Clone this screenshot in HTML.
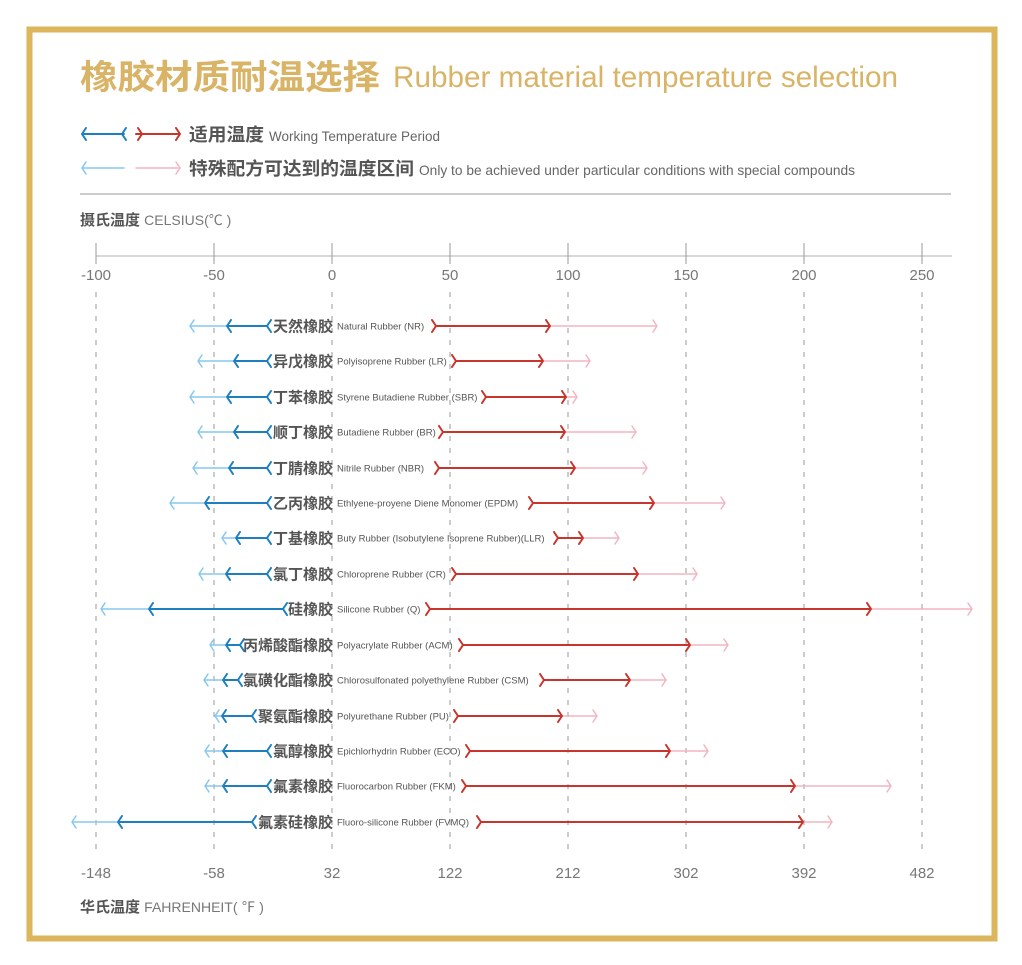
<!DOCTYPE html>
<html><head><meta charset="utf-8"><style>
body{margin:0;background:#fff;}
svg{display:block;}
.cj{font-family:"Liberation Sans","Noto Sans CJK SC",sans-serif;}
</style></head><body>
<svg width="1022" height="965" viewBox="0 0 1022 965" xmlns="http://www.w3.org/2000/svg" class="cj">
<rect x="29.5" y="29.5" width="965" height="909" fill="none" stroke="#dbb65c" stroke-width="6"/>
<text x="80" y="89" font-size="34" font-weight="bold" fill="#d9b467" textLength="300" lengthAdjust="spacingAndGlyphs">橡胶材质耐温选择</text>
<text x="393" y="87" font-size="30" fill="#d9b467" textLength="505" lengthAdjust="spacingAndGlyphs">Rubber material temperature selection</text>
<g fill="none" stroke-linecap="round" stroke-linejoin="round">
<path d="M82,134 H124 M86,128 L82,134 L86,140 M126,128 L122,134 L126,140" stroke="#1d7fc0" stroke-width="2"/>
<path d="M136,134 H178 M138,128 L142,134 L138,140 M176,128 L180,134 L176,140" stroke="#c8352c" stroke-width="2"/>
<path d="M82,168 H124 M86,162 L82,168 L86,174" stroke="#86c8ee" stroke-width="1.5"/>
<path d="M136,168 H178 M176,162 L180,168 L176,174" stroke="#f2b5c2" stroke-width="1.5"/>
</g>
<text x="189" y="141" font-size="18" font-weight="bold" fill="#555" textLength="75" lengthAdjust="spacingAndGlyphs">适用温度</text>
<text x="269" y="141" font-size="14" fill="#666" textLength="171" lengthAdjust="spacingAndGlyphs">Working Temperature Period</text>
<text x="189" y="175" font-size="18" font-weight="bold" fill="#555" textLength="225" lengthAdjust="spacingAndGlyphs">特殊配方可达到的温度区间</text>
<text x="419" y="175" font-size="14" fill="#666" textLength="436" lengthAdjust="spacingAndGlyphs">Only to be achieved under particular conditions with special compounds</text>
<line x1="80" y1="194" x2="951" y2="194" stroke="#ccc" stroke-width="2"/>
<text x="80" y="225" font-size="15" font-weight="bold" fill="#555">摄氏温度 <tspan font-weight="normal" font-size="14" fill="#777">CELSIUS(℃ )</tspan></text>
<text x="80" y="912" font-size="15" font-weight="bold" fill="#555">华氏温度 <tspan font-weight="normal" font-size="14" fill="#777">FAHRENHEIT( ℉ )</tspan></text>
<line x1="96" y1="256" x2="952" y2="256" stroke="#ccc" stroke-width="1.5"/>
<g stroke="#999" stroke-width="1">
<path d="M96,243V264M214,243V264M332,243V264M450,243V264M568,243V264M686,243V264M804,243V264M922,243V264"/>
<path d="M96,292V856M214,292V856M332,292V856M450,292V856M568,292V856M686,292V856M804,292V856M922,292V856" stroke-dasharray="5,7"/>
</g>
<g font-size="15" fill="#777" text-anchor="middle">
<text x="96" y="280">-100</text><text x="214" y="280">-50</text><text x="332" y="280">0</text><text x="450" y="280">50</text><text x="568" y="280">100</text><text x="686" y="280">150</text><text x="804" y="280">200</text><text x="922" y="280">250</text>
<text x="96" y="878">-148</text><text x="214" y="878">-58</text><text x="332" y="878">32</text><text x="450" y="878">122</text><text x="568" y="878">212</text><text x="686" y="878">302</text><text x="804" y="878">392</text><text x="922" y="878">482</text>
</g>
<g id="rows"></g>
</svg>
<script>
var rows=[
[326,"天然橡胶","Natural Rubber (NR)",190,227,267,436,550,657],
[361,"异戊橡胶","Polyisoprene Rubber (LR)",198,234,267,456,543,590],
[397,"丁苯橡胶","Styrene Butadiene Rubber (SBR)",190,227,267,486,566,577],
[432,"顺丁橡胶","Butadiene Rubber (BR)",198,234,267,443,565,636],
[468,"丁腈橡胶","Nitrile Rubber (NBR)",193,229,267,439,575,647],
[503,"乙丙橡胶","Ethlyene-proyene Diene Monomer (EPDM)",170,205,267,533,654,725],
[538,"丁基橡胶","Buty Rubber (Isobutylene Isoprene Rubber)(LLR)",222,236,267,558,583,619],
[574,"氯丁橡胶","Chloroprene Rubber (CR)",199,226,267,456,638,697],
[609,"硅橡胶","Silicone Rubber (Q)",101,149,283,430,871,972],
[645,"丙烯酸酯橡胶","Polyacrylate Rubber (ACM)",210,226,240,463,690,728],
[680,"氯磺化酯橡胶","Chlorosulfonated polyethylene Rubber (CSM)",204,223,238,544,630,666],
[716,"聚氨酯橡胶","Polyurethane Rubber (PU)",215,222,252,458,562,597],
[751,"氯醇橡胶","Epichlorhydrin Rubber (ECO)",205,223,267,470,670,708],
[786,"氟素橡胶","Fluorocarbon Rubber (FKM)",205,223,267,466,795,891],
[822,"氟素硅橡胶","Fluoro-silicone Rubber (FVMQ)",72,118,252,481,803,832]];
var s="";
function L(x,y){return "M"+(x+4)+","+(y-6)+" L"+x+","+y+" L"+(x+4)+","+(y+6)+" ";}
function R(x,y){return "M"+(x-4)+","+(y-6)+" L"+x+","+y+" L"+(x-4)+","+(y+6)+" ";}
rows.forEach(function(r){var y=r[0];
s+='<path fill="none" stroke-linecap="round" stroke-linejoin="round" stroke="#86c8ee" stroke-width="1.5" d="M'+r[3]+','+y+' H'+r[4]+' '+L(r[3],y)+'"/>';
s+='<path fill="none" stroke-linecap="round" stroke-linejoin="round" stroke="#1d7fc0" stroke-width="2" d="M'+r[4]+','+y+' H'+r[5]+' '+L(r[4],y)+L(r[5],y)+'"/>';
s+='<path fill="none" stroke-linecap="round" stroke-linejoin="round" stroke="#f2b5c2" stroke-width="1.5" d="M'+r[7]+','+y+' H'+r[8]+' '+R(r[8],y)+'"/>';
s+='<path fill="none" stroke-linecap="round" stroke-linejoin="round" stroke="#c8352c" stroke-width="2" d="M'+r[6]+','+y+' H'+r[7]+' '+R(r[6],y)+R(r[7],y)+'"/>';
s+='<text x="333" y="'+(y+5.5)+'" font-size="15" font-weight="bold" fill="#555" text-anchor="end">'+r[1]+'</text>';
s+='<text x="337" y="'+(y+3.5)+'" font-size="9.5" fill="#555">'+r[2]+'</text>';
});
document.getElementById("rows").innerHTML=s;
</script>
</body></html>
